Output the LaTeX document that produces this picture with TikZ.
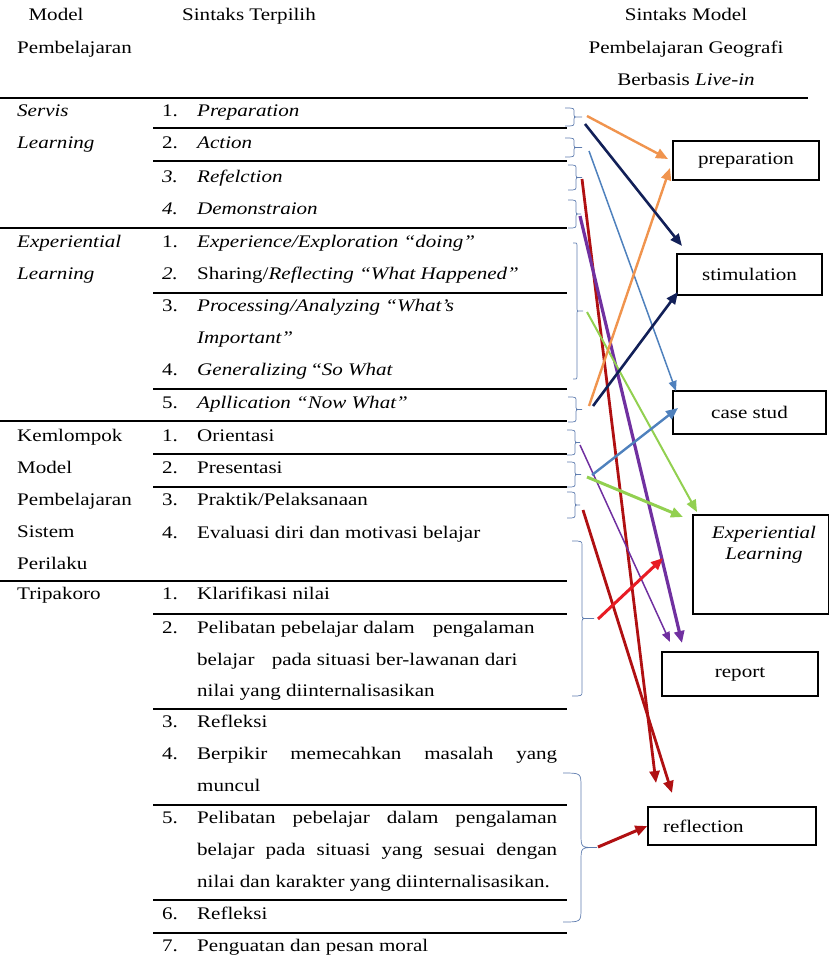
\documentclass[tikz,border=0pt]{standalone}
\usepackage{fontspec}
\setmainfont{Liberation Serif}[FakeStretch = 1.19]
\usetikzlibrary{arrows.meta}

\definecolor{braceblue}{RGB}{95,125,175}
\definecolor{arrorange}{RGB}{240,148,78}
\definecolor{arrnavy}{RGB}{18,32,88}
\definecolor{arrsteel}{RGB}{79,129,189}
\definecolor{arrdarkred}{RGB}{176,16,18}
\definecolor{arrpurple}{RGB}{112,48,160}
\definecolor{arrgreen}{RGB}{146,208,80}
\definecolor{arrred}{RGB}{232,28,36}

% right brace: x, top, bottom, width, radius, tick
\newcommand{\drawbrace}[6]{%
	\pgfmathsetmacro{\brmid}{(#2 + #3) / 2}
	\draw [brc] (#1, #2) .. controls ({#1 + #4}, #2) .. ({#1 + #4}, {#2 + #5})
		-- ({#1 + #4}, {\brmid - #5}) .. controls ({#1 + #4}, \brmid) .. ({#1 + #4 + #5}, \brmid)
		-- ({#1 + #6}, \brmid) -- ({#1 + #4 + #5}, \brmid)
		.. controls ({#1 + #4}, \brmid) .. ({#1 + #4}, {\brmid + #5})
		-- ({#1 + #4}, {#3 - #5}) .. controls ({#1 + #4}, #3) .. (#1, #3);
}

\begin{document}
\begin{tikzpicture}[x = 1pt, y = -1pt,
		every node/.style = {inner sep = 0pt, font = \fontsize{17.7pt}{22pt}\selectfont},
		txt/.style = {anchor = base west},
		mid/.style = {anchor = base},
		rule/.style = {line width = 1.2pt},
		brc/.style = {draw = braceblue, line width = 0.7pt},
		box/.style = {draw, fill = white, line width = 1.3pt},
		arr/.style = {-{Triangle[length = 12pt, width = 10pt]}, line width = 2.6pt},
		thinarr/.style = {-{Triangle[length = 10pt, width = 8pt]}, line width = 1.5pt}]

						\useasboundingbox (0, 0) rectangle (829, 955);

						% header
						\node [mid] (hModel) at (56, 21) {Model};
						\node [txt] (hPemb) at (17, 54) {Pembelajaran};
						\node [mid] (hSintaks) at (249, 21) {Sintaks Terpilih};
						\node [mid] (hRight1) at (686, 21) {Sintaks Model};
						\node [mid] (hRight2) at (686, 54) {Pembelajaran Geografi};
						\node [mid] (hRight3) at (686, 86) {Berbasis \textit{Live-in}};

						\draw [line width = 1.4pt] (0, 98) -- (808, 98);

						% rules
						\draw [rule] (0, 228) -- (567, 228);
						\draw [rule] (0, 421) -- (567, 421);
						\draw [rule] (0, 581) -- (567, 581);

						\draw [rule] (153, 128) -- (567, 128);
						\draw [rule] (153, 161) -- (567, 161);
						\draw [rule] (153, 293) -- (567, 293);
						\draw [rule] (153, 389) -- (567, 389);
						\draw [rule] (153, 454) -- (567, 454);
						\draw [rule] (153, 487) -- (567, 487);
						\draw [rule] (153, 614) -- (567, 614);
						\draw [rule] (153, 709) -- (567, 709);
						\draw [rule] (153, 805) -- (567, 805);
						\draw [rule] (153, 900) -- (567, 900);
						\draw [rule] (153, 933) -- (567, 933);

						% models
						\node [txt] (mServis) at (17, 117) {\textit{Servis}};
						\node [txt] (mServisB) at (17, 149) {\textit{Learning}};
						\node [txt] (mExp) at (17, 247) {\textit{Experiential}};
						\node [txt] (mExpB) at (17, 279) {\textit{Learning}};
						\node [txt] (mKel) at (17, 441) {Kemlompok};
						\node [txt] (mKelB) at (17, 473) {Model};
						\node [txt] (mKelC) at (17, 505) {Pembelajaran};
						\node [txt] (mKelD) at (17, 537) {Sistem};
						\node [txt] (mKelE) at (17, 569) {Perilaku};
						\node [txt] (mTri) at (17, 599) {Tripakoro};

						% steps
						\node [txt] (s1) at (162, 117) {\makebox[35pt][l]{1.}\textit{Preparation}};
						\node [txt] (s2) at (162, 149) {\makebox[35pt][l]{2.}\textit{Action}};
						\node [txt] (s3) at (162, 182) {\makebox[35pt][l]{\textit{3.}}\textit{Refelction}};
						\node [txt] (s4) at (162, 214) {\makebox[35pt][l]{\textit{4.}}\textit{Demonstraion}};

						\node [txt] (e1) at (162, 247) {\makebox[35pt][l]{1.}\textit{Experience/Exploration “doing”}};
						\node [txt] (e2) at (162, 279) {\makebox[35pt][l]{\textit{2.}}Sharing/\textit{Reflecting “What Happened”}};
						\node [txt] (e3) at (162, 311) {\makebox[35pt][l]{3.}\textit{Processing/Analyzing “What’s}};
						\node [txt] (e3b) at (197, 343) {\textit{Important”}};
						\node [txt] (e4) at (162, 375) {\makebox[35pt][l]{4.}\textit{Generalizing} “\textit{So What}};
						\node [txt] (e5) at (162, 408) {\makebox[35pt][l]{5.}\textit{Apllication “Now What”}};

						\node [txt] (k1) at (162, 441) {\makebox[35pt][l]{1.}Orientasi};
						\node [txt] (k2) at (162, 473) {\makebox[35pt][l]{2.}Presentasi};
						\node [txt] (k3) at (162, 505) {\makebox[35pt][l]{3.}Praktik/Pelaksanaan};
						\node [txt] (k4) at (162, 538) {\makebox[35pt][l]{4.}Evaluasi diri dan motivasi belajar};

						\node [txt] (t1) at (162, 599) {\makebox[35pt][l]{1.}Klarifikasi nilai};
						\node [txt] (t2) at (162, 633) {\makebox[35pt][l]{2.}Pelibatan pebelajar dalam\hspace{18pt}pengalaman};
						\node [txt] (t2b) at (197, 665) {belajar\hspace{12pt} pada situasi ber-lawanan dari};
						\node [txt] (t2c) at (197, 696) {nilai yang diinternalisasikan};
						\node [txt] (t3) at (162, 727) {\makebox[35pt][l]{3.}Refleksi};
						\node [txt] (t4) at (162, 759) {\makebox[35pt][l]{4.}\makebox[360pt][s]{Berpikir memecahkan masalah yang}};
						\node [txt] (t4b) at (197, 791) {muncul};
						\node [txt] (t5) at (162, 823) {\makebox[35pt][l]{5.}\makebox[360pt][s]{Pelibatan pebelajar dalam pengalaman}};
						\node [txt] (t5b) at (197, 855) {\makebox[360pt][s]{belajar pada situasi yang sesuai dengan}};
						\node [txt] (t5c) at (197, 887) {nilai dan karakter yang diinternalisasikan.};
						\node [txt] (t6) at (162, 919) {\makebox[35pt][l]{6.}Refleksi};
						\node [txt] (t7) at (162, 951) {\makebox[35pt][l]{7.}Penguatan dan pesan moral};

						% braces
						\drawbrace{565}{108}{126}{9}{4}{17}
						\drawbrace{565}{138}{157}{9}{4}{17}
						\drawbrace{568}{165}{190}{8}{4}{14}
						\drawbrace{568}{200}{228}{8}{4}{13}
						\drawbrace{573}{243}{379}{4}{2}{10}
						\drawbrace{568}{397}{422}{8}{4}{14}
						\drawbrace{567}{430}{455}{8}{4}{13}
						\drawbrace{567}{462}{487}{8}{4}{14}
						\drawbrace{567}{492}{518}{8}{4}{13}
						\drawbrace{572}{541}{696}{10}{5}{22}
						\drawbrace{563}{773}{922}{18}{14}{34}

						% syntax boxes
						\node [box, minimum width = 146pt, minimum height = 39pt] (prep) at (746, 160.5) {preparation};
						\node [box, minimum width = 145pt, minimum height = 41pt] (stim) at (749.5, 274.5) {stimulation};
						\node [box, minimum width = 153pt, minimum height = 43pt] (case) at (749.5, 412.5) {case stud};
						\node [box, minimum width = 136pt, minimum height = 99pt] (expl) at (761, 564.5) {};
						\node [mid] (explA) at (764, 538) {\textit{Experiential}};
						\node [mid] (explB) at (764, 559) {\textit{Learning}};
						\node [box, minimum width = 156pt, minimum height = 44pt] (rep) at (740, 674) {report};
						\node [box, minimum height = 38pt, inner xsep = 15pt, text width = 138pt, align = left] (refl) at (732, 826) {reflection};

						% arrow starts
						\coordinate (sPrep) at (587, 116);
						\coordinate (sPrepB) at (585, 124);
						\coordinate (sAct) at (589, 151);
						\coordinate (sRef) at (582, 179);
						\coordinate (sDem) at (580, 216);
						\coordinate (sExp) at (587, 312);
						\coordinate (sApl) at (589, 406);
						\coordinate (sAplB) at (593, 406);
						\coordinate (sOri) at (580, 445);
						\coordinate (sPre) at (592, 475);
						\coordinate (sPreB) at (587, 477);
						\coordinate (sPra) at (583, 510);
						\coordinate (sTri) at (598, 619);
						\coordinate (sTriB) at (598, 847);

						% arrow ends
						\coordinate (ePrep) at (668, 159);
						\coordinate (ePrepB) at (670, 168);
						\coordinate (eStim) at (682, 246);
						\coordinate (eStimB) at (678, 292);
						\coordinate (eCase) at (676, 391);
						\coordinate (eCaseB) at (678, 408);
						\coordinate (eExp) at (697, 512);
						\coordinate (eExpB) at (683, 517);
						\coordinate (eExpC) at (663, 558);
						\coordinate (eRep) at (682, 643);
						\coordinate (eRepB) at (670, 642);
						\coordinate (eRefl) at (656, 783);
						\coordinate (eReflB) at (672, 793);

						\draw [thinarr, color = arrsteel] (sAct) -- (eCase);
						\draw [arr, color = arrdarkred, line width = 2.8pt] (sRef) -- (eRefl);
						\draw [arr, color = arrdarkred, line width = 2.8pt] (sPra) -- (eReflB);
						\draw [arr, color = arrpurple, line width = 3.2pt] (sDem) -- (eRep);
						\draw [thinarr, color = arrpurple] (sOri) -- (eRepB);
						\draw [arr, color = arrgreen, line width = 2pt] (sExp) -- (eExp);
						\draw [arr, color = arrgreen, line width = 3pt] (sPreB) -- (eExpB);
						\draw [arr, color = arrorange, line width = 2.4pt] (sPrep) -- (ePrep);
						\draw [arr, color = arrorange, line width = 2.4pt] (sApl) -- (ePrepB);
						\draw [arr, color = arrnavy, line width = 2.6pt] (sPrepB) -- (eStim);
						\draw [arr, color = arrnavy, line width = 2.6pt] (sAplB) -- (eStimB);
						\draw [arr, color = arrsteel, line width = 2.4pt] (sPre) -- (eCaseB);
						\draw [arr, color = arrred, line width = 3pt] (sTri) -- (eExpC);
						\draw [arr, color = arrdarkred, line width = 3pt] (sTriB) -- (refl.west);
					\end{tikzpicture}
\end{document}
